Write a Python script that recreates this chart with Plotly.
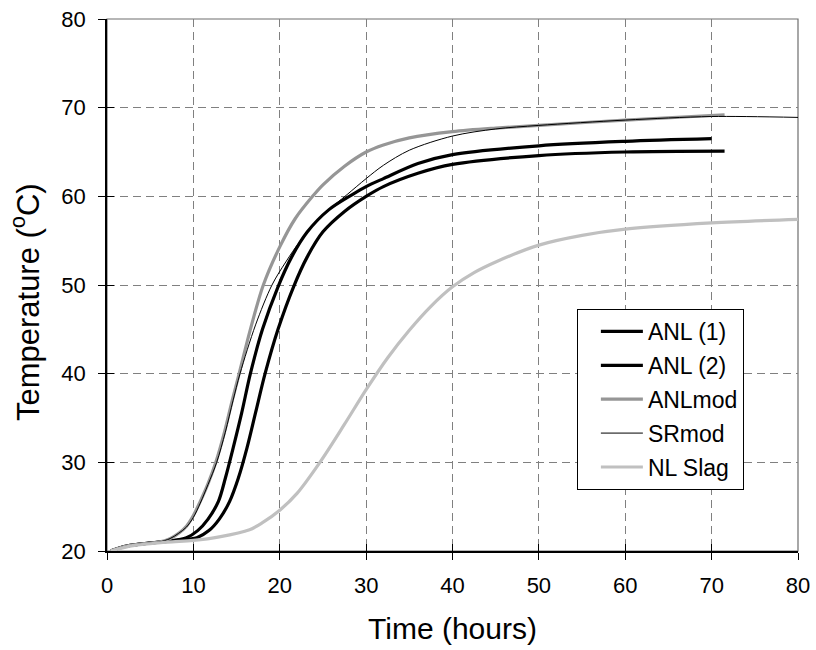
import plotly.graph_objects as go

# ---- data ----
anl1_x = [0.4, 2, 4, 7, 9.2, 10.5, 11.7, 12.9, 13.7, 14.6, 15.6, 16.6, 18.0, 19.8, 21.4, 23.2, 25.7, 28.4, 30, 32, 36, 40, 50, 60, 70]
anl1_y = [20, 20.5, 20.8, 21.1, 21.5, 22.3, 23.6, 25.6, 28.2, 31.6, 35.6, 40.0, 45.0, 49.8, 53.2, 56.0, 58.5, 60.2, 61.1, 62.0, 63.7, 64.7, 65.7, 66.2, 66.5]

anl2_x = [0.4, 2, 4, 8, 10.4, 11.8, 13.0, 14.2, 15.2, 16.2, 17.2, 18.3, 19.8, 21.6, 23.2, 25, 27.5, 30, 32, 36, 40, 50, 60, 71.5]
anl2_y = [20, 20.5, 20.8, 21.2, 21.5, 22.3, 23.6, 25.6, 28.2, 31.6, 35.6, 40.0, 45.0, 49.8, 53.2, 56.0, 58.3, 60.0, 61.1, 62.6, 63.6, 64.6, 65.0, 65.1]

anlmod_x = [0.4, 2, 4, 6, 7.3, 8.3, 9.2, 10.0, 10.8, 11.7, 12.6, 13.6, 14.5, 15.3, 16.6, 18.1, 20, 21.8, 23.8, 25, 27.5, 30, 32, 35, 40, 45, 50, 60, 71.5]
anlmod_y = [20, 20.5, 20.8, 21.0, 21.4, 22.0, 22.8, 24.0, 25.6, 27.6, 30, 33.4, 37, 40, 45, 50, 54.3, 57.5, 60, 61.3, 63.4, 65.0, 65.8, 66.6, 67.3, 67.7, 68.0, 68.6, 69.2]

srmod_x = [0.4, 2, 4, 6, 7.3, 8.3, 9.2, 10.0, 10.8, 11.7, 12.7, 13.7, 14.6, 15.4, 17.2, 19.1, 20.7, 22.4, 25, 27.8, 30, 32, 35, 40, 45, 50, 60, 70, 80]
srmod_y = [20, 20.5, 20.8, 21.0, 21.4, 22.0, 22.7, 23.8, 25.4, 27.5, 30, 33.4, 37, 40, 45.5, 50, 52.6, 55.0, 57.9, 60.2, 62.0, 63.5, 65.2, 66.8, 67.6, 68.0, 68.6, 69.0, 68.9]

slag_x = [0.4, 3, 7, 10, 13, 16.5, 18, 20, 22, 24.65, 27.5, 30, 32.5, 35, 37.5, 40, 42.5, 45, 50, 55, 60, 70, 80]
slag_y = [20, 20.6, 21.0, 21.2, 21.6, 22.4, 23.2, 24.6, 26.5, 30, 34.3, 38.2, 41.8, 44.9, 47.6, 49.8, 51.4, 52.6, 54.5, 55.6, 56.3, 57.0, 57.4]

x_ticks = [0, 10, 20, 30, 40, 50, 60, 70, 80]
y_ticks = [20, 30, 40, 50, 60, 70, 80]

FONT = "Arial, Liberation Sans, sans-serif"

series = [
    ("ANL (1)", anl1_x, anl1_y, "#000000", 3.2),
    ("ANL (2)", anl2_x, anl2_y, "#000000", 3.2),
    ("ANLmod", anlmod_x, anlmod_y, "#969696", 3.2),
    ("SRmod", srmod_x, srmod_y, "#000000", 1.0),
    ("NL Slag", slag_x, slag_y, "#c0c0c0", 3.2),
]

fig = go.Figure()
for name, xs, ys, col, w in series:
    fig.add_trace(go.Scatter(
        x=xs, y=ys, mode="lines", name=name, legendgroup=name,
        line=dict(color=col, width=w, shape="spline", smoothing=0.9),
    ))

axis_common = dict(
    showgrid=True, gridcolor="#808080", gridwidth=1, griddash="8px,5px",
    zeroline=False, showline=True, linecolor="#000000", linewidth=1.5,
    ticks="outside", ticklen=7, tickcolor="#000000", tickwidth=1.2,
    tickfont=dict(family=FONT, size=22, color="#000000"),
)

fig.update_layout(
    width=816, height=650,
    margin=dict(l=107, r=18, t=19, b=99, autoexpand=False),
    paper_bgcolor="white", plot_bgcolor="white",
    font=dict(family=FONT, color="#000000"),
    xaxis=dict(range=[0, 80], tickvals=x_ticks, ticklabelstandoff=7,
               title=dict(text="Time (hours)", font=dict(size=30), standoff=21),
               **axis_common),
    yaxis=dict(range=[20, 80], tickvals=y_ticks, ticklabelstandoff=8,
               title=dict(text="Temperature (<sup>o</sup>C)&nbsp;&nbsp;&nbsp;&nbsp;", font=dict(size=31), standoff=13),
               **axis_common),
    xaxis2=dict(range=[0, 80], tickvals=x_ticks, overlaying="x", anchor="y", side="bottom",
                ticks="inside", ticklen=7, tickcolor="#000000", tickwidth=1.2,
                showticklabels=False, showgrid=False, zeroline=False, showline=False),
    yaxis2=dict(range=[20, 80], tickvals=y_ticks, overlaying="y", anchor="x", side="left",
                ticks="inside", ticklen=7, tickcolor="#000000", tickwidth=1.2,
                showticklabels=False, showgrid=False, zeroline=False, showline=False),
    legend=dict(x=0.68, y=0.455, xanchor="left", yanchor="top",
                bgcolor="white", bordercolor="#000000", borderwidth=1,
                font=dict(family=FONT, size=23, color="#000000"),
                itemwidth=42, indentation=18,
                traceorder="grouped", tracegroupgap=1),
    shapes=[dict(type="rect", xref="paper", yref="paper", x0=0, y0=0, x1=1, y1=1,
                 line=dict(color="#6e6e6e", width=1.2), layer="below")],
    showlegend=True,
)
# invisible trace so the overlay (cross-tick) axes render
fig.add_trace(go.Scatter(x=[0], y=[20], xaxis="x2", yaxis="y2", mode="markers",
                         marker=dict(opacity=0), showlegend=False, hoverinfo="skip"))

fig.write_html("out.html")
